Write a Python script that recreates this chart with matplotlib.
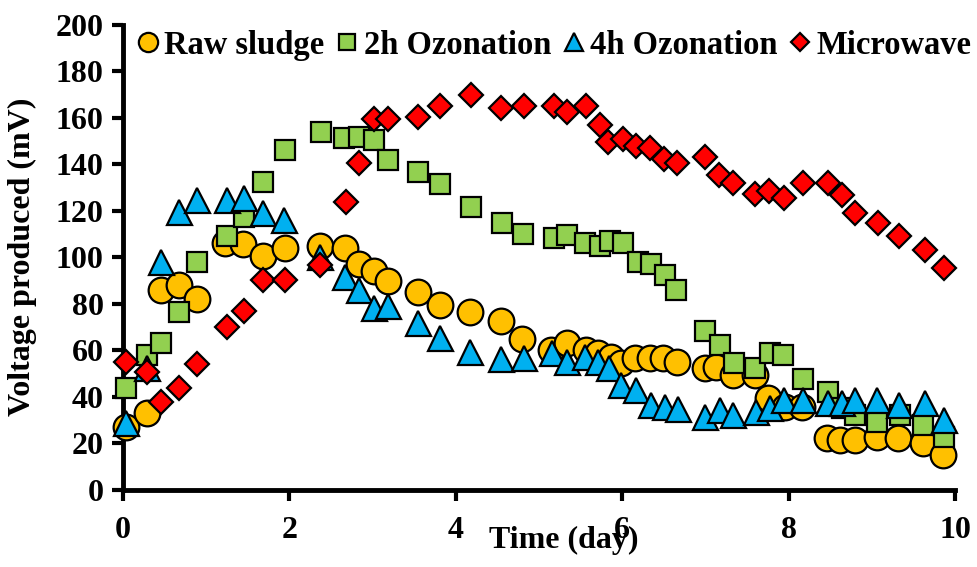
import numpy as np
import matplotlib.pyplot as plt

# Data (time in days, voltage in mV)
raw_t = [0.04, 0.29, 0.45, 0.67, 0.89, 1.23, 1.44, 1.68, 1.95, 2.37, 2.67, 2.83, 3.02,
         3.18, 3.54, 3.81, 4.17, 4.54, 4.80, 5.14, 5.34, 5.57, 5.71, 5.87, 5.99, 6.15,
         6.33, 6.49, 6.66, 6.99, 7.13, 7.33, 7.59, 7.75, 7.96, 8.16, 8.46, 8.62, 8.80,
         9.06, 9.32, 9.62, 9.86]
raw_v = [27, 33, 86, 88, 82, 106, 105.5, 100.5, 104, 105, 104, 97, 94,
         90, 85, 79.5, 76.6, 72.6, 64.7, 60, 63, 60, 58.8, 57, 54.5, 56.5,
         56.5, 56.5, 55, 52.2, 52.9, 49.3, 49.3, 39.3, 35.7, 35.7, 22, 21.4, 21.4,
         22.8, 22, 20, 15]

oz2_t = [0.04, 0.29, 0.45, 0.67, 0.89, 1.25, 1.45, 1.68, 1.95, 2.38, 2.65, 2.83, 3.02,
         3.18, 3.55, 3.81, 4.18, 4.55, 4.81, 5.18, 5.34, 5.55, 5.73, 5.85, 6.01, 6.19,
         6.34, 6.51, 6.65, 7.00, 7.17, 7.34, 7.59, 7.77, 7.93, 8.17, 8.47, 8.64, 8.80,
         9.06, 9.34, 9.62, 9.87]
oz2_v = [43.6, 58, 63, 76.6, 98, 109, 117.5, 132.5, 146.2, 154, 151.2, 151.9, 150.5,
         141.9, 136.9, 131.6, 121.8, 114.6, 109.9, 108.2, 109.6, 106, 104.9, 107.2, 106.3, 98.1,
         97.1, 92.4, 85.9, 68.4, 62.2, 54.4, 52.2, 58.7, 57.9, 47.5, 42.1, 35, 32.1,
         29.2, 32.1, 27.8, 22.8]

oz4_t = [0.04, 0.29, 0.45, 0.67, 0.89, 1.25, 1.45, 1.68, 1.93, 2.37, 2.67, 2.83, 3.01,
         3.18, 3.54, 3.81, 4.17, 4.54, 4.82, 5.16, 5.34, 5.55, 5.71, 5.84, 5.99, 6.17,
         6.34, 6.51, 6.67, 7.00, 7.17, 7.33, 7.61, 7.77, 7.94, 8.17, 8.47, 8.64, 8.80,
         9.06, 9.33, 9.64, 9.87]
oz4_v = [28.5, 52.2, 98, 119.6, 124.7, 124.7, 125.4, 118.9, 116.1, 100.3, 91.6, 85.9, 78,
         79, 71.6, 65.1, 59.4, 56.1, 56.5, 58.7, 55, 57.2, 55, 52.2, 45, 42.9,
         36.4, 35.5, 34.5, 31.4, 34.3, 32.1, 33.5, 35, 38.6, 38.6, 37.1, 37.1, 38.6,
         38.6, 36.4, 37.1, 30]

mw_t = [0.04, 0.29, 0.45, 0.67, 0.89, 1.25, 1.45, 1.68, 1.95, 2.37, 2.68, 2.84, 3.02,
        3.18, 3.55, 3.81, 4.18, 4.54, 4.82, 5.18, 5.34, 5.57, 5.73, 5.83, 6.01, 6.17,
        6.33, 6.50, 6.66, 7.00, 7.16, 7.33, 7.60, 7.76, 7.94, 8.17, 8.47, 8.64, 8.80,
        9.07, 9.33, 9.64, 9.87]
mw_v = [54.8, 50.8, 37.6, 43.6, 54.1, 70.1, 77, 90.2, 90.2, 96.7, 123.7, 140.5, 159.5,
        159.6, 160.5, 165.3, 169.9, 164.1, 165.3, 165.3, 162.7, 165.3, 157, 149.8, 150.8, 147.9,
        146.9, 142.4, 140.5, 143.3, 135.4, 131.9, 127.2, 128.5, 125.7, 131.9, 131.9, 126.8, 118.9,
        114.9, 109.2, 103.1, 95.3]

plt.rcParams['font.family'] = 'Liberation Serif'
plt.rcParams['font.weight'] = 'bold'
fs = 23

fig = plt.figure(figsize=(9.77, 5.67), dpi=100)
ax = fig.add_axes([0.126, 0.1365, 0.8515, 0.8195])

edge = dict(markeredgecolor='black', markeredgewidth=1.6, linestyle='none', clip_on=False)
ax.plot(raw_t, raw_v, 'o', color='#FFC000', markersize=18.5, label='Raw sludge', zorder=3, **edge)
ax.plot(oz2_t, oz2_v, 's', color='#92D050', markersize=14.5, label='2h Ozonation', zorder=4, **edge)
ax.plot(oz4_t, oz4_v, '^', color='#00B0F0', markersize=18, label='4h Ozonation', zorder=5, **edge)
ax.plot(mw_t, mw_v, 'D', color='#FF0000', markersize=12, label='Microwave', zorder=6, **edge)

ax.set_xlim(0, 10)
ax.set_ylim(0, 200)
ax.set_xticks(np.arange(0, 11, 2))
ax.set_yticks(np.arange(0, 201, 20))
ax.tick_params(axis='both', labelsize=fs, width=3, length=8, direction='out')
ax.tick_params(axis='x', pad=11)
ax.tick_params(axis='y', pad=6)
for lab in ax.get_xticklabels() + ax.get_yticklabels():
    lab.set_fontweight('bold')

for side in ['top', 'right']:
    ax.spines[side].set_visible(False)
for side in ['left', 'bottom']:
    ax.spines[side].set_linewidth(3.5)

fig.text(0.0225, 0.547, 'Voltage produced (mV)', fontsize=fs, fontweight='bold',
         rotation=90, ha='center', va='center')
fig.text(0.577, 0.046, 'Time (day)', fontsize=fs, fontweight='bold', ha='center', va='center')

ax.legend(loc='upper left', bbox_to_anchor=(0.016, 0.99), ncol=4, frameon=False,
          fontsize=23.5, markerscale=0.75, handlelength=0.7, handletextpad=0.15,
          columnspacing=0.35, borderaxespad=0, borderpad=0, numpoints=1)

fig.savefig('out.png', dpi=100)
